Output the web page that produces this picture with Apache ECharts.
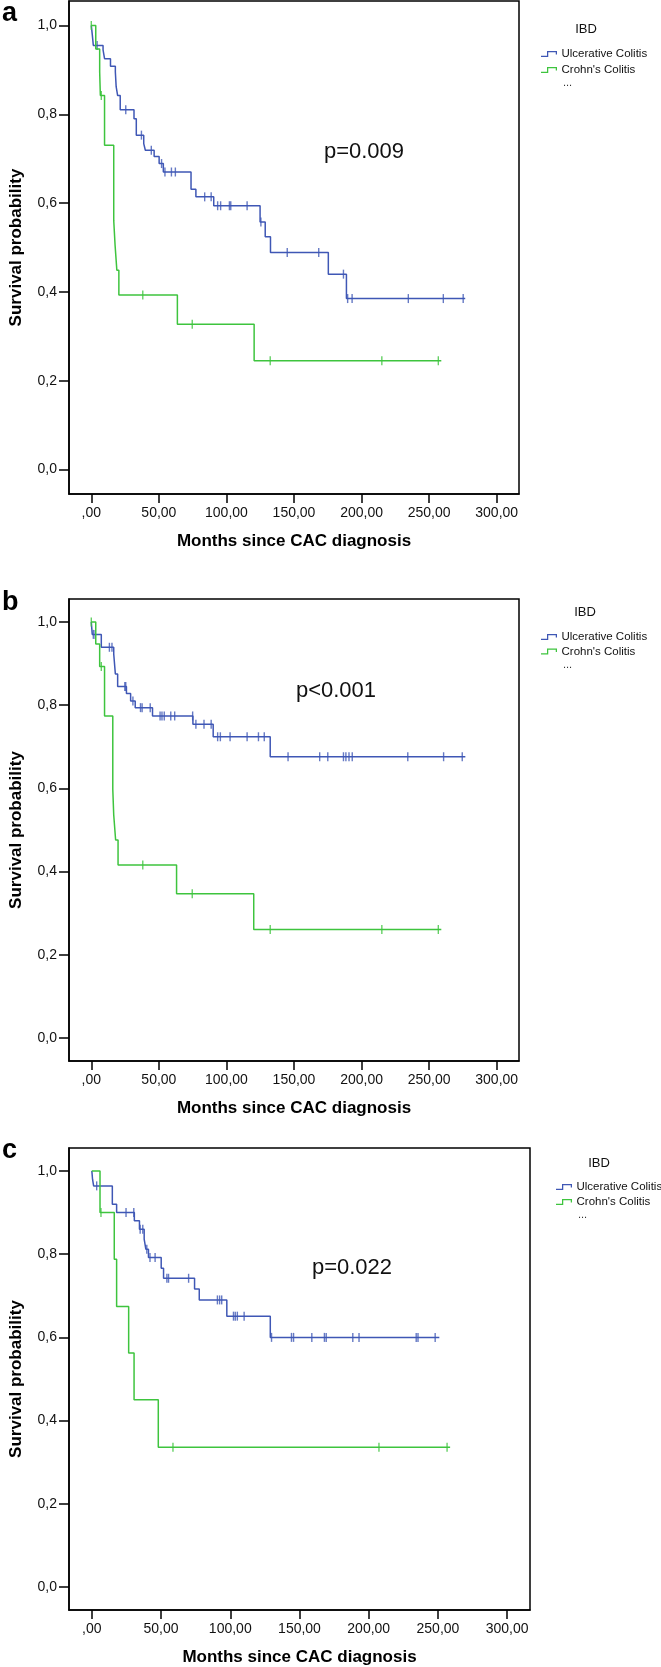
<!DOCTYPE html>
<html><head><meta charset="utf-8">
<script src="https://cdn.jsdelivr.net/npm/echarts@6/dist/echarts.min.js"></script>
<style>html,body{margin:0;padding:0;background:#fff}#c{width:661px;height:1667px}</style>
</head><body><div id="c"></div>
<script>
// ---------- texts / ticks ----------
const groupNames = ['Ulcerative Colitis', "Crohn's Colitis"];
const panelLetters = ['a', 'b', 'c'];
const pValues = ['p=0.009', 'p<0.001', 'p=0.022'];
const xTickValues = [0, 50, 100, 150, 200, 250, 300];
const xTickLabels = [',00', '50,00', '100,00', '150,00', '200,00', '250,00', '300,00'];
const yTickValues = [0, 0.2, 0.4, 0.6, 0.8, 1.0];
const yTickLabels = ['0,0', '0,2', '0,4', '0,6', '0,8', '1,0'];
const xAxisTitle = 'Months since CAC diagnosis';
const yAxisTitle = 'Survival probability';
const legendTitle = 'IBD';
const legendMore = '...';

// ---------- panel a : [month, survival] steps, censor months ----------
const aUC = [[0,1],[0.8,0.977],[1.5,0.955],[8.7,0.945],[9.8,0.925],[14.2,0.908],[17.8,0.895],[18.4,0.862],[19.5,0.842],[21.4,0.81],[31.6,0.79],[33.3,0.753],[38.8,0.734],[40,0.719],[46.5,0.705],[50.2,0.689],[53.3,0.67],[73.8,0.631],[77.4,0.614],[90.6,0.594],[124.9,0.5575],[128.7,0.524],[132.6,0.489],[175.4,0.44],[188.8,0.385],[276.7,0.385]];
const aUCcens = [4.3,25.5,37.1,44.4,52,54.5,59.3,62.2,83.9,88.7,93.5,95.7,102.2,103.2,115.3,125.5,145,168.3,186.6,189.7,193,234.6,260.5,275.2];
const aCD = [[0,1],[3.3,0.947],[6.2,0.895],[6.7,0.842],[9.8,0.73],[16.6,0.561],[17.6,0.505],[18.9,0.449],[20.4,0.393],[63.7,0.327],[120.5,0.245],[259,0.245]];
const aCDcens = [0,7.4,38.1,74.7,132.4,215,256.8];

// ---------- panel b ----------
const bUC = [[0,1],[0.7,0.97],[7.4,0.939],[16.6,0.923],[17.8,0.875],[19.5,0.845],[26,0.828],[29.1,0.81],[32.5,0.794],[45.3,0.774],[75.2,0.754],[90.2,0.724],[132.4,0.676],[276.8,0.676]];
const bUCcens = [1.5,2.8,13.4,15.3,24.8,25.5,30.8,36.4,37.6,43.6,50.9,52.3,54,58.8,61.7,75,77.4,83.4,88.7,93.5,95.5,102.7,115.3,123.7,128,145.6,169,175,186.6,188.4,190.7,193.1,234.2,260.7,274.5];
const bCD = [[0,1],[3.3,0.947],[6.2,0.893],[9.8,0.774],[15.9,0.598],[16.6,0.536],[18,0.476],[19.8,0.416],[63.1,0.347],[120.2,0.261],[259,0.261]];
const bCDcens = [0,7.4,38.1,74.7,132.4,215,256.8];

// ---------- panel c ----------
const cUC = [[0,1],[0.5,0.98],[1.3,0.964],[14.8,0.92],[17.9,0.9],[30.7,0.88],[34.4,0.86],[37.8,0.836],[39,0.812],[40.9,0.792],[50.1,0.766],[51.8,0.742],[74.2,0.716],[77.6,0.69],[97.5,0.651],[128.9,0.6],[251,0.6]];
const cUCcens = [3.5,24.7,30.3,34.9,36.8,39.7,42,45.7,54.2,55.4,69.9,90.7,92.3,93.8,102.3,103.6,105.1,110,129.8,144.2,145.7,158.9,168,169.3,188.5,193,234.3,235.6,248];
const cCD = [[0,1],[5.9,0.9],[16.2,0.788],[17.9,0.674],[26.6,0.5625],[30.5,0.45],[48,0.336],[258.8,0.336]];
const cCDcens = [6.6,58.6,207.4,256.6];

// ---------- layout / style ----------
const colors = ['#3f57b5', '#3ec43e'];
const font = '"Liberation Sans", Arial, sans-serif';
const panels = [
  {uc: aUC, ucC: aUCcens, cd: aCD, cdC: aCDcens,
   grid: {left: 59, top: 1, width: 460, height: 493},
   letterY: 14, p: [364, 152], leg: {ibdX: 586, ibdY: 29, iconX: 541, top: 47, gap: 2, moreY: 83}},
  {uc: bUC, ucC: bUCcens, cd: bCD, cdC: bCDcens,
   grid: {left: 58, top: 599, width: 461, height: 462},
   letterY: 603, p: [336, 691], leg: {ibdX: 585, ibdY: 612, iconX: 541, top: 630, gap: 0.5, moreY: 665}},
  {uc: cUC, ucC: cUCcens, cd: cCD, cdC: cCDcens,
   grid: {left: 68, top: 1148, width: 462, height: 464},
   letterY: 1151, p: [352, 1268], leg: {ibdX: 599, ibdY: 1163, iconX: 556, top: 1180, gap: 1, moreY: 1215}}
];

function survAt(curve, t) {
  let s = curve[0][1];
  for (const [ti, si] of curve) { if (ti <= t) s = si; else break; }
  return s;
}
function fmtFrom(values, labels) {
  return v => { const i = values.findIndex(x => Math.abs(x - v) < 1e-6); return i >= 0 ? labels[i] : ''; };
}
const stepIcon = 'path://M0,9.5H14V12H0Z M12,0H14.5V12H12Z M12,0H32V2.5H12Z M29.5,0H32V7H29.5Z';

const option = {
  backgroundColor: '#fff',
  animation: false,
  grid: [], xAxis: [], yAxis: [], series: [], legend: [], graphic: []
};

panels.forEach((p, i) => {
  option.grid.push(Object.assign({show: true, borderColor: '#000', borderWidth: 1.5, backgroundColor: 'transparent'}, p.grid));
  option.xAxis.push({
    gridIndex: i, type: 'value', min: -16.5, max: 316.5,
    axisLine: {show: true, onZero: false, lineStyle: {color: '#000', width: 1.5}},
    splitLine: {show: false},
    axisTick: {show: true, length: 9, customValues: xTickValues, lineStyle: {color: '#000', width: 1.5}},
    axisLabel: {customValues: xTickValues, formatter: fmtFrom(xTickValues, xTickLabels), color: '#111', fontSize: 14, fontFamily: font, margin: 12},
    name: xAxisTitle, nameLocation: 'middle', nameGap: 39,
    nameTextStyle: {fontWeight: 'bold', fontSize: 17, color: '#000', fontFamily: font}
  });
  option.yAxis.push({
    gridIndex: i, type: 'value', min: -0.055, max: 1.055,
    axisLine: {show: true, onZero: false, lineStyle: {color: '#000', width: 1.5}},
    splitLine: {show: false},
    axisTick: {show: true, length: 10, customValues: yTickValues, lineStyle: {color: '#000', width: 1.5}},
    axisLabel: {customValues: yTickValues, formatter: fmtFrom(yTickValues, yTickLabels), color: '#111', fontSize: 14, fontFamily: font, margin: 12},
    name: yAxisTitle, nameLocation: 'middle', nameGap: 44,
    nameTextStyle: {fontWeight: 'bold', fontSize: 17, color: '#000', fontFamily: font}
  });
  const groups = [[p.uc, p.ucC], [p.cd, p.cdC]];
  groups.forEach(([curve, cens], g) => {
    option.series.push({
      name: groupNames[g], type: 'line', step: 'end', xAxisIndex: i, yAxisIndex: i,
      data: curve, symbol: 'none', showSymbol: false, color: colors[g],
      itemStyle: {color: colors[g]}, lineStyle: {color: colors[g], width: 1.5}, z: 3 + g
    });
    option.series.push({
      name: groupNames[g] + ' censored', type: 'scatter', xAxisIndex: i, yAxisIndex: i,
      data: cens.map(t => [t, survAt(curve, t)]), symbol: 'rect', symbolSize: [1.4, 9],
      itemStyle: {color: colors[g]}, z: 3 + g
    });
  });
  option.legend.push({
    orient: 'vertical', left: p.leg.iconX, top: p.leg.top, padding: 0,
    itemWidth: 17, itemHeight: 6, itemGap: p.leg.gap, icon: stepIcon,
    data: groupNames, selectedMode: false,
    itemStyle: {borderWidth: 0},
    textStyle: {fontSize: 11.5, fontFamily: font, color: '#111', lineHeight: 14, padding: [0, 0, 0, -1]}
  });
  option.graphic.push(
    {type: 'text', x: 2, y: p.letterY, style: {text: panelLetters[i], fontSize: 27, fontWeight: 'bold', fontFamily: font, fill: '#000', textAlign: 'left', textVerticalAlign: 'middle'}},
    {type: 'text', x: p.p[0], y: p.p[1], style: {text: pValues[i], fontSize: 22, fontFamily: font, fill: '#111', textAlign: 'center', textVerticalAlign: 'middle'}},
    {type: 'text', x: p.leg.ibdX, y: p.leg.ibdY, style: {text: legendTitle, fontSize: 13, fontFamily: font, fill: '#111', textAlign: 'center', textVerticalAlign: 'middle'}},
    {type: 'text', x: p.leg.iconX + 22, y: p.leg.moreY, style: {text: legendMore, fontSize: 11, fontFamily: font, fill: '#333', textAlign: 'left', textVerticalAlign: 'middle'}}
  );
});

const chart = echarts.init(document.getElementById('c'), null, {renderer: 'canvas'});
chart.setOption(option);
</script>
</body></html>
